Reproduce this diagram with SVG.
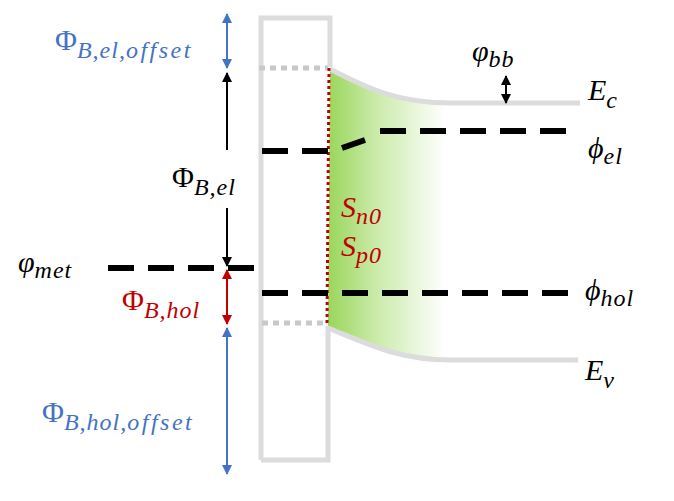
<svg xmlns="http://www.w3.org/2000/svg" width="674" height="501" viewBox="0 0 674 501">
<style>
.t{font-family:"Liberation Serif","DejaVu Serif",serif;font-style:italic;font-size:30px}
.s{font-size:24px;letter-spacing:1px}
.o{letter-spacing:2.5px}
.u{font-style:normal}
.band{fill:none;stroke:#dcdcdc;stroke-width:5}
.dash{fill:none;stroke:#000;stroke-width:6;stroke-dasharray:26,14}
</style>
<defs>
<linearGradient id="g" x1="0" x2="1" y1="0" y2="0">
<stop offset="0" stop-color="#9ad65a"/><stop offset="0.4" stop-color="#c9eaa8"/><stop offset="1" stop-color="#ffffff"/>
</linearGradient>
<marker id="ab" viewBox="0 0 10 10" refX="9" refY="5" markerWidth="5" markerHeight="5" orient="auto-start-reverse"><path d="M0,0L10,5L0,10z" fill="#000"/></marker>
<marker id="abl" viewBox="0 0 10 10" refX="9" refY="5" markerWidth="5" markerHeight="5" orient="auto-start-reverse"><path d="M0,0L10,5L0,10z" fill="#4472c4"/></marker>
<marker id="ar" viewBox="0 0 10 10" refX="9" refY="5" markerWidth="5" markerHeight="5" orient="auto-start-reverse"><path d="M0,0L10,5L0,10z" fill="#c00000"/></marker>
</defs>
<g id="green"><path d="M330,68 C370,90 400,103 445,103 L445,360 C400,360 370,345 328,328 Z" fill="url(#g)"/></g>
<g id="insulator">
<path class="band" d="M261,460 L261,18 L330,18 L330,67"/>
<path class="band" d="M261,460 L328,460 L328,326"/>
<line x1="259" y1="68" x2="328" y2="68" stroke="#c8c8c8" stroke-width="5" stroke-dasharray="6,5"/>
<line x1="262" y1="323" x2="325" y2="323" stroke="#c8c8c8" stroke-width="5" stroke-dasharray="6,5"/>
</g>
<g id="Ec"><path class="band" d="M330,69 C370,90 400,103 450,103 L580,103"/></g>
<g id="Ev"><path class="band" d="M328,328 C370,345 400,360 450,360 L578,360"/></g>
<g id="surface"><line x1="329" y1="68" x2="327" y2="325" stroke="#c00000" stroke-width="3" stroke-dasharray="3,3"/></g>
<g id="levels">
<path class="dash" d="M262,151 L328,151"/>
<path d="M342,148 L365,140" stroke="#000" stroke-width="6"/>
<path class="dash" d="M380,131 L572,131"/>
<path class="dash" d="M108,268 L258,268"/>
<path class="dash" d="M262,293 L580,293"/>
</g>
<g id="connectors" stroke-width="2">
<line x1="227" y1="14" x2="227" y2="68" stroke="#4472c4" marker-start="url(#abl)" marker-end="url(#abl)"/>
<line x1="227" y1="150" x2="227" y2="73" stroke="#000" marker-end="url(#ab)"/>
<line x1="227" y1="208" x2="227" y2="266" stroke="#000" marker-end="url(#ab)"/>
<line x1="227" y1="270" x2="227" y2="324" stroke="#c00000" marker-start="url(#ar)" marker-end="url(#ar)"/>
<line x1="227" y1="328" x2="227" y2="474" stroke="#4472c4" marker-start="url(#abl)" marker-end="url(#abl)"/>
<line x1="506" y1="76" x2="506" y2="103" stroke="#000" marker-start="url(#ab)" marker-end="url(#ab)"/>
</g>
<g id="labels">
<text class="t" x="55" y="50" fill="#4472c4"><tspan class="u">Φ</tspan><tspan class="s" dy="8">B,el,<tspan class="o">offset</tspan></tspan></text>
<text class="t" x="472" y="61">φ<tspan class="s" dy="6">bb</tspan></text>
<text class="t" x="588" y="100">E<tspan class="s" dy="8">c</tspan></text>
<text class="t" x="588" y="158">ϕ<tspan class="s" dy="6">el</tspan></text>
<text class="t" x="172" y="187"><tspan class="u">Φ</tspan><tspan class="s" dy="8">B,el</tspan></text>
<text class="t" x="341" y="217" fill="#c00000">S<tspan class="s" dy="7">n0</tspan></text>
<text class="t" x="341" y="256" fill="#c00000">S<tspan class="s" dy="7">p0</tspan></text>
<text class="t" x="18" y="272">φ<tspan class="s" dy="6">met</tspan></text>
<text class="t" x="585" y="300">ϕ<tspan class="s" dy="6">hol</tspan></text>
<text class="t" x="122" y="310" fill="#c00000"><tspan class="u">Φ</tspan><tspan class="s" dy="8">B,hol</tspan></text>
<text class="t" x="585" y="380">E<tspan class="s" dy="8">v</tspan></text>
<text class="t" x="42" y="422" fill="#4472c4"><tspan class="u">Φ</tspan><tspan class="s" dy="8">B,hol,<tspan class="o">offset</tspan></tspan></text>
</g>
</svg>
